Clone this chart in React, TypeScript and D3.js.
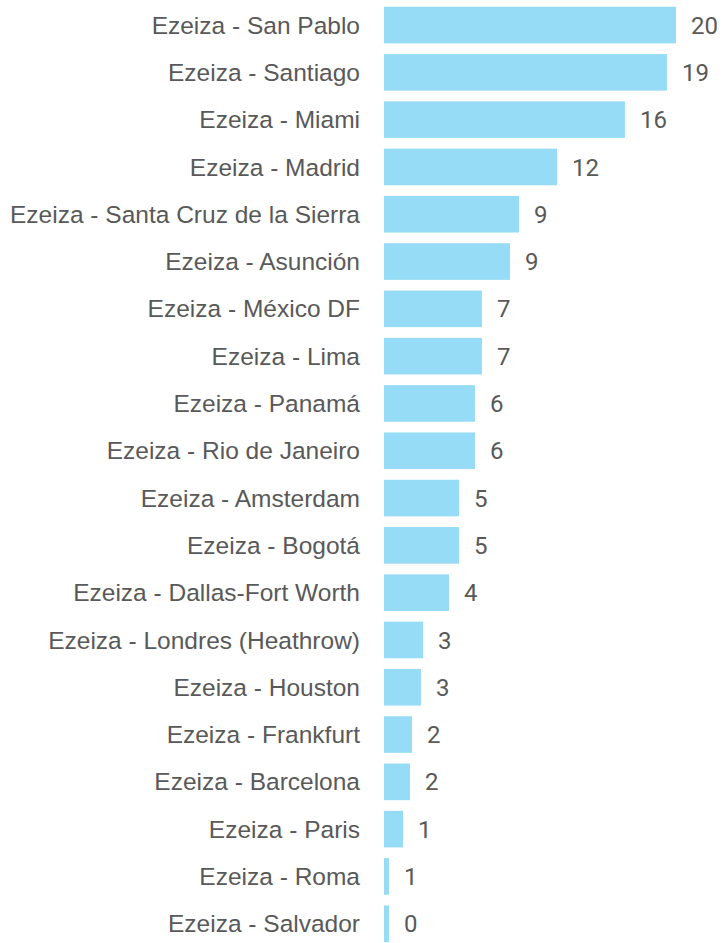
import React, { useRef, useEffect } from 'react';
import * as d3 from 'd3';

const routes = [
  'Ezeiza - San Pablo',
  'Ezeiza - Santiago',
  'Ezeiza - Miami',
  'Ezeiza - Madrid',
  'Ezeiza - Santa Cruz de la Sierra',
  'Ezeiza - Asunción',
  'Ezeiza - México DF',
  'Ezeiza - Lima',
  'Ezeiza - Panamá',
  'Ezeiza - Rio de Janeiro',
  'Ezeiza - Amsterdam',
  'Ezeiza - Bogotá',
  'Ezeiza - Dallas-Fort Worth',
  'Ezeiza - Londres (Heathrow)',
  'Ezeiza - Houston',
  'Ezeiza - Frankfurt',
  'Ezeiza - Barcelona',
  'Ezeiza - Paris',
  'Ezeiza - Roma',
  'Ezeiza - Salvador',
];
const values = [20, 19.38, 16.5, 11.85, 9.25, 8.63, 6.71, 6.71, 6.23, 6.23, 5.14, 5.14, 4.45, 2.67, 2.53, 1.92, 1.78, 1.3, 0.34, 0.34];
const valueLabels = ['20', '19', '16', '12', '9', '9', '7', '7', '6', '6', '5', '5', '4', '3', '3', '2', '2', '1', '1', '0'];

const App = () => {
  const ref = useRef<SVGSVGElement>(null);

  useEffect(() => {
    const svg = d3.select(ref.current);
    svg.selectAll('*').remove();

    const left = 384;
    const x = d3.scaleLinear().domain([0, 20]).range([0, 292]);
    const y = d3.scaleBand<string>().domain(routes).range([1.4, 947.4]).paddingInner(0.226).paddingOuter(0.113);

    const rows = svg
      .selectAll('g.row')
      .data(routes)
      .enter()
      .append('g')
      .attr('class', 'row')
      .attr('transform', (d) => 'translate(0,' + y(d) + ')');

    rows
      .append('rect')
      .attr('x', left)
      .attr('y', 0)
      .attr('width', (d, i) => x(values[i]))
      .attr('height', y.bandwidth())
      .attr('fill', '#96dcf6');

    rows
      .append('text')
      .attr('x', left - 24)
      .attr('y', y.bandwidth() / 2)
      .attr('dy', '0.35em')
      .attr('text-anchor', 'end')
      .style('font-family', '"Liberation Sans", Arial, sans-serif')
      .style('font-size', '24.5px')
      .attr('fill', '#595959')
      .text((d) => d);

    rows
      .append('text')
      .attr('x', (d, i) => left + x(values[i]) + 15)
      .attr('y', y.bandwidth() / 2)
      .attr('dy', '0.36em')
      .style('font-family', 'Roboto, sans-serif')
      .style('font-size', '24px')
      .attr('fill', '#595959')
      .text((d, i) => valueLabels[i]);
  }, []);

  return (
    <div style={{ position: 'absolute', left: 0, top: 0 }}>
      <svg ref={ref} width="726" height="943" style={{ display: 'block', background: '#fff' }} />
    </div>
  );
};

export default App;
